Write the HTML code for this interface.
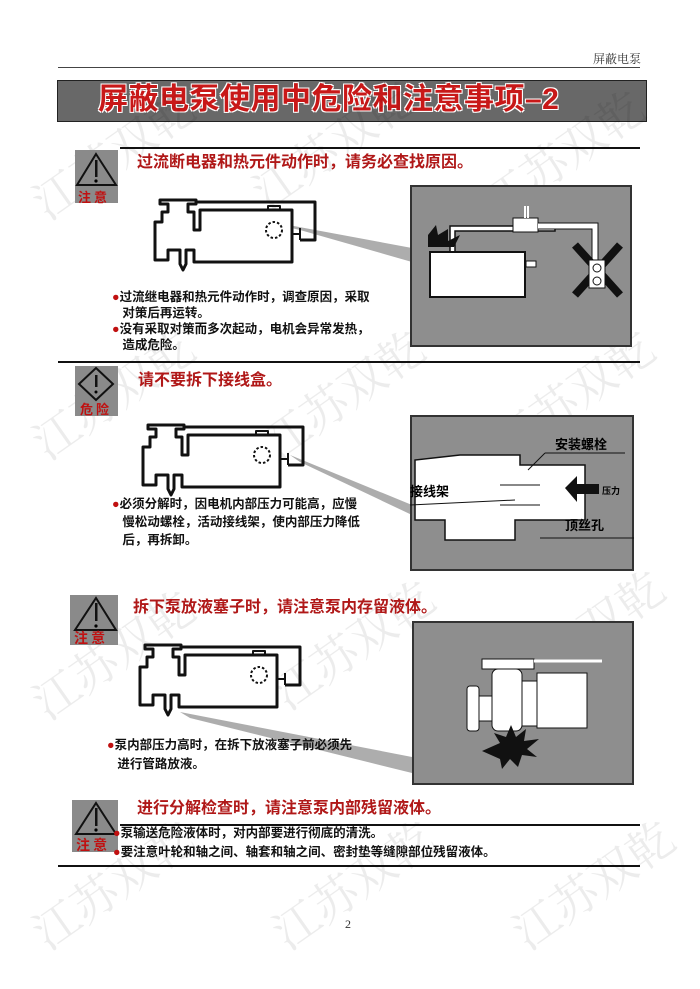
<!DOCTYPE html>
<html><head><meta charset="utf-8">
<style>
body{margin:0;width:700px;height:989px;background:#fff;position:relative;overflow:hidden;font-family:"Liberation Sans","Noto Sans CJK SC",sans-serif}
.a{position:absolute}
.h{color:#b01818;font-weight:bold;font-size:16px;line-height:20px;white-space:nowrap}
.t{font-size:12.5px;color:#111;font-weight:bold;white-space:nowrap}
.d{color:#c01010}
.wm{position:absolute;color:#000;opacity:.07;font-size:46px;transform:rotate(-35deg);white-space:nowrap;font-family:"Noto Serif CJK SC",serif}
.gbox{position:absolute;background:#8e8e8e;border:2px solid #333}
</style></head><body>
<div class="a" style="left:593px;top:50px;font-size:12px;color:#333;font-family:'Noto Serif CJK SC',serif">屏蔽电泵</div>
<div class="a" style="left:58px;top:67px;width:582px;height:1px;background:#444"></div>
<div class="a" style="left:57px;top:80px;width:588px;height:40px;background:#686868;border:1px solid #222"></div>
<div class="a" style="left:98px;top:80px;font-size:30px;font-weight:bold;color:#c81818;line-height:40px;letter-spacing:0.5px;text-shadow:1px 1px 0 #fff,-1px -1px 0 #fff,1px -1px 0 #fff,-1px 1px 0 #fff">屏蔽电泵使用中危险和注意事项–2</div>

<div class="wm" style="left:20px;top:120px">江苏双乾</div>
<div class="wm" style="left:240px;top:110px">江苏双乾</div>
<div class="wm" style="left:470px;top:120px">江苏双乾</div>
<div class="wm" style="left:20px;top:360px">江苏双乾</div>
<div class="wm" style="left:250px;top:360px">江苏双乾</div>
<div class="wm" style="left:480px;top:360px">江苏双乾</div>
<div class="wm" style="left:20px;top:620px">江苏双乾</div>
<div class="wm" style="left:260px;top:610px">江苏双乾</div>
<div class="wm" style="left:490px;top:600px">江苏双乾</div>
<div class="wm" style="left:20px;top:850px">江苏双乾</div>
<div class="wm" style="left:260px;top:850px">江苏双乾</div>
<div class="wm" style="left:500px;top:850px">江苏双乾</div>

<svg class="a" style="left:0;top:0" width="700" height="989">
<defs>
<g id="pump" fill="none" stroke="#111" stroke-width="3" stroke-linejoin="round">
<path d="M5 22 V60 H18 V50 H30 V64 L33 70 L36 64 V50 H44 V62 H142 V10 H50 V30 H44 V12 H38 V4 H46 V0 H10 V4 H18 V12 H12 V22 Z" fill="#fff"/>
<path d="M46 2 H165 V40 H150"/>
<circle cx="124" cy="30" r="8" stroke-width="2" stroke-dasharray="2.5 2"/>
<path d="M142 34 h8 M150 28 v12" stroke-width="2"/>
<path d="M118 10 v-4 h12 v4" stroke-width="2"/>
</g>
</defs>
<line x1="120" y1="148" x2="640" y2="148" stroke="#111" stroke-width="2"/>
<rect x="75" y="150" width="43" height="53" fill="#8a8a8a"/>
<path d="M96 154 L116 185 L77 185 Z" fill="none" stroke="#111" stroke-width="2"/>
<rect x="95" y="160" width="2.5" height="17" fill="#111"/><circle cx="96" cy="181" r="1.6"/>
<text x="78" y="202" fill="#c01010" font-size="13" font-weight="bold" font-family="Noto Sans CJK SC">注 意</text>
<polygon points="240,216 412,248 412,262 300,230" fill="#999" opacity=".8"/>
<use href="#pump" x="150" y="200"/>
<line x1="58" y1="362" x2="640" y2="362" stroke="#111" stroke-width="2"/>
<rect x="75" y="366" width="43" height="50" fill="#8a8a8a"/>
<path d="M96 368 L113 384 L96 400 L79 384 Z" fill="none" stroke="#111" stroke-width="2"/>
<rect x="95" y="375" width="2.5" height="12" fill="#111"/><circle cx="96" cy="392" r="1.5"/>
<text x="80" y="414" fill="#c01010" font-size="13" font-weight="bold" font-family="Noto Sans CJK SC">危 险</text>
<polygon points="290,455 412,505 412,515 300,462" fill="#999" opacity=".8"/>
<use href="#pump" x="138" y="425"/>
<rect x="70" y="595" width="48" height="50" fill="#8a8a8a"/>
<path d="M96 598 L116 630 L75 630 Z" fill="none" stroke="#111" stroke-width="2"/>
<rect x="95" y="603" width="2.5" height="18" fill="#111"/><circle cx="96" cy="626" r="1.6"/>
<text x="74" y="643" fill="#c01010" font-size="14" font-weight="bold" font-family="Noto Sans CJK SC">注 意</text>
<polygon points="180,712 412,757 412,773 190,718" fill="#999" opacity=".8"/>
<use href="#pump" x="135" y="645"/>
<line x1="120" y1="825" x2="640" y2="825" stroke="#111" stroke-width="2"/>
<line x1="58" y1="866" x2="640" y2="866" stroke="#111" stroke-width="2"/>
<rect x="72" y="800" width="46" height="52" fill="#8a8a8a"/>
<path d="M96 803 L116 834 L76 834 Z" fill="none" stroke="#111" stroke-width="2"/>
<rect x="95" y="808" width="2.5" height="18" fill="#111"/><circle cx="96" cy="830" r="1.6"/>
<text x="76" y="850" fill="#c01010" font-size="14" font-weight="bold" font-family="Noto Sans CJK SC">注 意</text>
</svg>

<div class="a h" style="left:137px;top:153px">过流断电器和热元件动作时，请务必查找原因。</div>
<div class="a t" style="left:112px;top:289px;line-height:16px"><span class="d">●</span>过流继电器和热元件动作时，调查原因，采取<br>&nbsp;&nbsp;&nbsp;对策后再运转。<br><span class="d">●</span>没有采取对策而多次起动，电机会异常发热，<br>&nbsp;&nbsp;&nbsp;造成危险。</div>
<div class="gbox" style="left:410px;top:185px;width:218px;height:158px"></div>
<svg class="a" style="left:410px;top:185px" width="220" height="160">
<rect x="20" y="67" width="95" height="45" fill="#fff" stroke="#111" stroke-width="2"/>
<path d="M40 66 v-25 h105 v5 h-100 v20" fill="#fff" stroke="#111" stroke-width="1.5"/>
<rect x="103" y="33" width="25" height="14" fill="#fff" stroke="#111"/>
<path d="M115 33 v-12 M118 33 v-12" stroke="#fff" stroke-width="2"/>
<path d="M128 38 h60 v50 h-6 v-44 h-54" fill="#fff" stroke="#111"/>
<path d="M165 60 L210 110 M210 60 L165 110" stroke="#111" stroke-width="8"/>
<rect x="179" y="75" width="16" height="28" fill="#fff" stroke="#111"/>
<circle cx="187" cy="83" r="4" fill="none" stroke="#111"/><circle cx="187" cy="96" r="4" fill="none" stroke="#111"/>
<path d="M18 50 l8-10 l2 10 l10-6 l0 12 l12-6 l-6 12 l-26 0z" fill="#111"/>
<rect x="116" y="76" width="10" height="6" fill="#fff" stroke="#111"/>
</svg>

<div class="a h" style="left:138px;top:371px">请不要拆下接线盒。</div>
<div class="a t" style="left:112px;top:495px;line-height:18px"><span class="d">●</span>必须分解时，因电机内部压力可能高，应慢<br>&nbsp;&nbsp;&nbsp;慢松动螺栓，活动接线架，使内部压力降低<br>&nbsp;&nbsp;&nbsp;后，再拆卸。</div>
<div class="gbox" style="left:410px;top:415px;width:220px;height:152px"></div>
<svg class="a" style="left:410px;top:415px" width="224" height="156">
<path d="M50 40 h60 v10 h65 v55 h-70 v20 h-70 v-20 h-30 v-60 z" fill="#fff" stroke="#111" stroke-width="1.5"/>
<path d="M75 40 h30 M90 70 h40 M90 90 h40" stroke="#111"/>
<path d="M155 73 l12-12 v8 h22 v10 h-22 v8 z" fill="#111"/>
<text x="192" y="79" font-size="9" font-weight="bold" font-family="Noto Sans CJK SC">压力</text>
<text x="145" y="34" font-size="13" font-weight="bold" font-family="Noto Sans CJK SC">安装螺栓</text>
<line x1="135" y1="38" x2="215" y2="38" stroke="#111"/>
<line x1="135" y1="38" x2="118" y2="55" stroke="#111"/>
<text x="0" y="81" font-size="13" font-weight="bold" font-family="Noto Sans CJK SC">接线架</text>
<line x1="0" y1="90" x2="105" y2="85" stroke="#111"/>
<text x="155" y="115" font-size="13" font-weight="bold" font-family="Noto Sans CJK SC">顶丝孔</text>
<line x1="130" y1="123" x2="224" y2="123" stroke="#111"/>
</svg>

<div class="a h" style="left:133px;top:598px">拆下泵放液塞子时，请注意泵内存留液体。</div>
<div class="a t" style="left:107px;top:736px;line-height:19px"><span class="d">●</span>泵内部压力高时，在拆下放液塞子前必须先<br>&nbsp;&nbsp;&nbsp;进行管路放液。</div>
<div class="gbox" style="left:412px;top:621px;width:218px;height:160px"></div>
<svg class="a" style="left:412px;top:621px" width="220" height="164">
<rect x="125" y="52" width="50" height="55" fill="#fff" stroke="#111"/>
<rect x="70" y="38" width="52" height="10" fill="#fff" stroke="#111"/>
<rect x="55" y="65" width="12" height="45" rx="3" fill="#fff" stroke="#111"/>
<rect x="67" y="75" width="15" height="25" fill="#fff" stroke="#111"/>
<rect x="80" y="48" width="30" height="62" rx="6" fill="#fff" stroke="#111"/>
<rect x="110" y="60" width="15" height="45" fill="#fff" stroke="#111"/>
<line x1="122" y1="40" x2="190" y2="40" stroke="#fff" stroke-width="3"/>
<path d="M70 130 l18-8 l-6-10 l12 4 l5-12 l5 12 l10-8 l-2 12 l15-2 l-12 10 l10 8 l-15-2 l-4 12 l-8-8 l-8 10 l-2-10 z" fill="#111"/>
</svg>

<div class="a h" style="left:137px;top:799px">进行分解检查时，请注意泵内部残留液体。</div>
<div class="a t" style="left:113px;top:824px;line-height:19px"><span class="d">●</span>泵输送危险液体时，对内部要进行彻底的清洗。<br><span class="d">●</span>要注意叶轮和轴之间、轴套和轴之间、密封垫等缝隙部位残留液体。</div>

<div class="a" style="left:345px;top:917px;font-size:12px;color:#333;font-family:'Liberation Serif',serif">2</div>
</body></html>
